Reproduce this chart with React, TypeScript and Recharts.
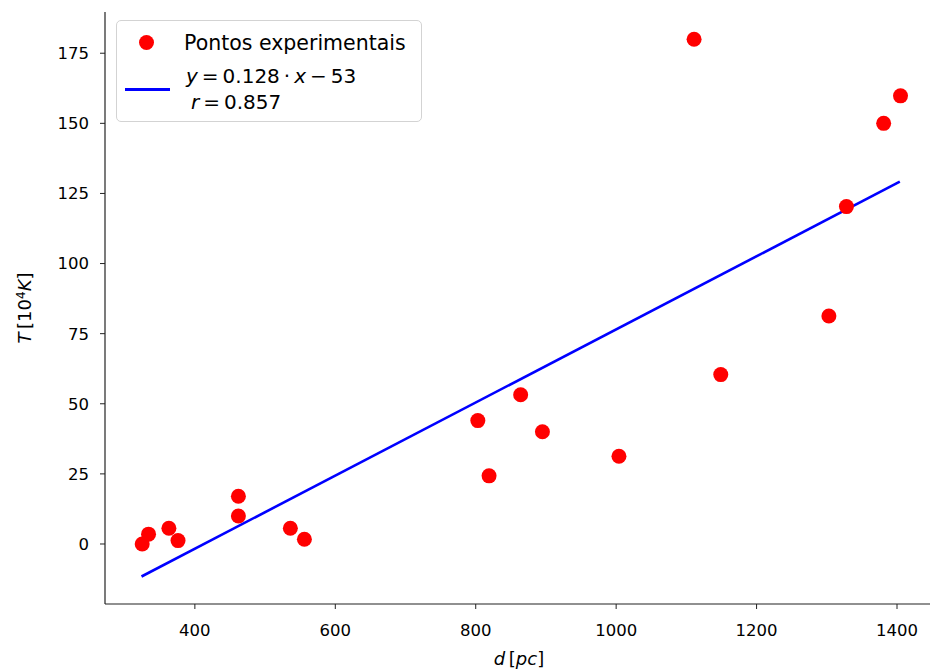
import React from 'react';
import { ComposedChart, Scatter, Line, XAxis, YAxis } from 'recharts';

// measured points (d in pc, T in 10^4 K)
const distance = [325, 334, 363, 376, 462, 462, 536, 556, 803, 819, 864, 895, 1004, 1111, 1149, 1303, 1328, 1381, 1405];
const temperature = [0, 3.5, 5.6, 1.2, 17, 10, 5.6, 1.7, 44, 24.3, 53.2, 40, 31.3, 180, 60.4, 81.3, 120.3, 150, 159.8];

// linear fit, endpoints at the data extremes
const fitX = [324, 1404];
const fitY = [-11.6, 129.2];

const xTicks = [400, 600, 800, 1000, 1200, 1400];
const yTicks = [0, 25, 50, 75, 100, 125, 150, 175];

const points = distance.map((d, i) => ({ x: d, y: temperature[i] }));
const fitLine = fitX.map((d, i) => ({ x: d, y: fitY[i] }));

const FONT = 'DejaVu Sans, sans-serif';
const SPINE = '#222';

const Dot = (props: any) => <circle cx={props.cx} cy={props.cy} r={7.5} fill="#ff0000" />;

const line = (top: number, left: number, fs: number) => ({
  position: 'absolute' as const,
  left,
  top: top - fs / 2,
  fontSize: fs,
  lineHeight: `${fs}px`,
  whiteSpace: 'nowrap' as const,
});

const LegendBox = () => (
  <div
    style={{
      position: 'absolute',
      left: 116,
      top: 20,
      width: 306,
      height: 102,
      boxSizing: 'border-box',
      background: 'rgba(255,255,255,0.8)',
      border: '1px solid #d3d3d3',
      borderRadius: 5,
      fontFamily: FONT,
      color: '#000',
    }}
  >
    <div style={{ position: 'absolute', left: 22, top: 14, width: 15, height: 15, borderRadius: 8, background: '#ff0000' }} />
    <div style={line(22, 67, 20.5)}>Pontos experimentais</div>
    <div style={{ position: 'absolute', left: 8, top: 67, width: 45, height: 2.5, background: '#0000ff' }} />
    <div style={line(55, 69, 20)}>
      <i>y</i>&thinsp;=&thinsp;0.128&thinsp;·&thinsp;<i>x</i>&thinsp;−&thinsp;53
    </div>
    <div style={line(81, 74, 20)}>
      <i>r</i>&thinsp;=&thinsp;0.857
    </div>
  </div>
);

export default function App() {
  return (
    <div style={{ position: 'absolute', left: 0, top: 0, width: 930, height: 671, background: '#fff', overflow: 'hidden' }}>
      <ComposedChart width={930} height={671} margin={{ top: 12, right: 0, bottom: 0, left: 0 }}>
        <XAxis
          dataKey="x"
          type="number"
          domain={[272, 1447]}
          ticks={xTicks}
          allowDataOverflow
          height={67}
          stroke={SPINE}
          tickSize={5}
          tickMargin={15}
          tick={{ fontSize: 16.5, fill: '#000', fontFamily: FONT }}
          axisLine={{ stroke: SPINE, strokeWidth: 1.2 }}
        />
        <XAxis
          xAxisId="top"
          orientation="top"
          type="number"
          domain={[272, 1447]}
          height={0}
          tick={false}
          tickLine={false}
          axisLine={{ stroke: SPINE, strokeWidth: 1.2 }}
        />
        <YAxis
          dataKey="y"
          type="number"
          domain={[-21.4, 189.7]}
          ticks={yTicks}
          allowDataOverflow
          width={105}
          stroke={SPINE}
          tickSize={5}
          tickMargin={11}
          tick={{ fontSize: 16.5, fill: '#000', fontFamily: FONT }}
          axisLine={{ stroke: SPINE, strokeWidth: 1.2 }}
        />
        <Scatter name="Pontos experimentais" data={points} shape={Dot} isAnimationActive={false} />
        <Line
          name="fit"
          data={fitLine}
          dataKey="y"
          type="linear"
          stroke="#0000ff"
          strokeWidth={2.6}
          dot={false}
          activeDot={false}
          isAnimationActive={false}
        />
      </ComposedChart>

      <LegendBox />

      <div style={{ ...line(659, 519, 18), transform: 'translateX(-50%)', fontFamily: FONT, color: '#000' }}>
        <i>d</i>&thinsp;[<i>pc</i>]
      </div>
      <div
        style={{
          position: 'absolute',
          left: 23,
          top: 308,
          transform: 'translate(-50%, -50%) rotate(-90deg)',
          fontFamily: FONT,
          fontSize: 18,
          lineHeight: '18px',
          whiteSpace: 'nowrap',
          color: '#000',
        }}
      >
        <i>T</i>&thinsp;[10<sup style={{ fontSize: 12, verticalAlign: 6 }}>4</sup><i>K</i>]
      </div>
    </div>
  );
}
